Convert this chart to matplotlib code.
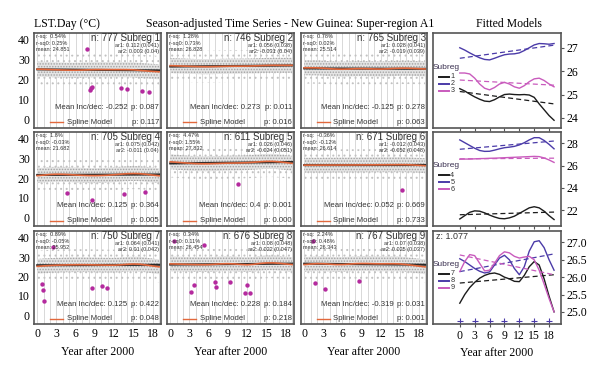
import numpy as np
import matplotlib
matplotlib.use('Agg')
import matplotlib.pyplot as plt
from matplotlib.lines import Line2D

plt.rcParams['hatch.linewidth'] = 0.7

# ---------------- data ----------------
years = list(range(20))
subregs = [1, 2, 3, 4, 5, 6, 7, 8, 9]
n_obs = [777, 746, 765, 705, 611, 671, 750, 676, 767]
r_sq = ['0.54%', '1.28%', '0.78%', '1.8%', '4.47%', '-0.36%', '0.89%', '0.34%', '2.24%']
r_sq0 = ['0.25%', '0.73%', '0.02%', '-0.03%', '1.55%', '-0.12%', '-0.05%', '0.11%', '0.48%']
means = ['24.851', '26.828', '25.514', '21.682', '27.832', '26.614', '25.952', '26.454', '26.343']
ar1 = ['0.112 (0.041)', '0.056 (0.038)', '0.028 (0.041)', '0.075 (0.042)', '0.026 (0.046)',
       '-0.012 (0.043)', '0.064 (0.041)', '0.08 (0.048)', '0.07 (0.038)']
ar2 = ['0.003 (0.04)', '-0.031 (0.04)', '-0.019 (0.039)', '-0.011 (0.04)', '-0.024 (0.051)',
       '-0.052 (0.048)', '0.01 (0.042)', '0.022 (0.047)', '0.025 (0.037)']
mean_incdec = ['-0.252', '0.273', '-0.125', '0.125', '0.4', '0.052', '0.125', '0.228', '-0.319']
p_linear = ['0.087', '0.011', '0.278', '0.364', '0.001', '0.669', '0.422', '0.184', '0.031']
p_spline = ['0.117', '0.016', '0.063', '0.005', '0.000', '0.733', '0.048', '0.218', '0.001']

# spline fits per subregion (yearly values, years 0..19)
spline = [
    [25.25, 25.15, 25.02, 24.90, 24.80, 24.72, 24.70, 24.78, 24.90, 25.00,
     25.02, 25.00, 24.99, 25.00, 24.98, 24.88, 24.60, 24.35, 24.10, 23.90],
    [27.00, 26.90, 26.78, 26.67, 26.57, 26.50, 26.48, 26.55, 26.63, 26.70,
     26.73, 26.74, 26.78, 26.88, 27.00, 27.12, 27.18, 27.17, 27.15, 27.18],
    [25.92, 25.92, 25.88, 25.70, 25.45, 25.27, 25.20, 25.30, 25.45, 25.52,
     25.45, 25.33, 25.27, 25.38, 25.55, 25.67, 25.70, 25.60, 25.45, 25.33],
    [21.20, 21.50, 21.80, 21.93, 21.90, 21.75, 21.55, 21.38, 21.25, 21.22,
     21.30, 21.45, 21.70, 21.95, 22.20, 22.30, 22.20, 21.90, 21.50, 21.15],
    [28.30, 28.05, 27.80, 27.55, 27.35, 27.27, 27.28, 27.38, 27.50, 27.60,
     27.65, 27.72, 27.85, 28.05, 28.30, 28.50, 28.50, 28.25, 27.90, 27.50],
    [26.57, 26.58, 26.58, 26.60, 26.62, 26.63, 26.65, 26.66, 26.68, 26.70,
     26.72, 26.74, 26.76, 26.78, 26.80, 26.82, 26.80, 26.68, 26.50, 26.28],
    [25.25, 25.50, 25.70, 25.85, 25.97, 26.05, 26.10, 26.12, 26.08, 26.00,
     25.95, 25.88, 25.87, 26.05, 26.30, 26.45, 26.35, 25.95, 25.45, 25.00],
    [26.53, 26.45, 26.35, 26.25, 26.17, 26.12, 26.15, 26.35, 26.55, 26.63,
     26.50, 26.25, 26.07, 26.30, 26.75, 27.02, 27.05, 26.85, 26.50, 26.20],
    [26.16, 26.45, 26.65, 26.62, 26.40, 26.18, 26.20, 26.40, 26.62, 26.73,
     26.70, 26.60, 26.55, 26.58, 26.60, 26.50, 26.20, 25.80, 25.38, 25.00],
]
# linear fits: value at year 0 and year 19
lin_years = [0, 19]
linear = [
    [25.13, 24.60], [26.55, 27.11], [25.62, 25.40],
    [21.58, 21.82], [27.46, 28.20], [26.60, 26.66],
    [25.83, 26.07], [26.16, 26.67], [26.64, 26.07],
]
# flagged outlier observations (magenta)
out_x = [
    [7.7, 8.3, 8.45, 8.6, 13.1, 14.0, 16.4, 17.4],
    [],
    [],
    [4.6, 8.6, 13.5, 16.8],
    [10.5],
    [15.4],
    [0.7, 0.9, 1.1, 2.5, 8.5, 10.1, 10.9],
    [0.6, 3.2, 3.75, 5.3, 7.0, 7.2, 9.3, 11.6, 11.9, 12.5],
    [1.4, 1.75, 3.3, 8.6],
]
out_y = [
    [35.3, 14.6, 15.5, 16.0, 15.5, 15.2, 14.3, 13.5],
    [],
    [],
    [12.5, 8.6, 11.6, 13.0],
    [17.0],
    [13.8],
    [16.3, 12.8, 7.6, 35.5, 14.1, 14.9, 14.1],
    [38.4, 11.8, 15.4, 36.4, 17.1, 14.6, 17.1, 11.6, 15.8, 11.6],
    [38.4, 16.8, 13.4, 17.6],
]
rug_years = [0, 3, 6, 9, 12, 15, 18]
fit_yticks = [[24, 25, 26, 27], [22, 24, 26, 28], [25.0, 25.5, 26.0, 26.5, 27.0]]
fit_ylims = [(23.57, 27.63), (20.57, 29.01), (24.65, 27.33)]
z_text = 'z: 1.077'

# ---------------- style ----------------
SERIF = 'Liberation Serif'
SANS = 'Liberation Sans'
GRAY_PTS = '#a2a2a2'
ORANGE = '#e2683c'
MAGENTA = '#b42a9e'
FIT_COLORS = ['#1c1c1c', '#4b3ba8', '#c95bbd']
SPINE = '#555555'

W, H = 600, 369
fig = plt.figure(figsize=(6.0, 3.69), dpi=100)

def fr(x0, y0, x1, y1):
    return [x0 / W, 1 - y1 / H, (x1 - x0) / W, (y1 - y0) / H]

col_x = [(34, 161), (167, 294), (301, 427)]
row_y = [(33, 128), (132, 226), (231, 324)]
fit_x = (433, 561)

for i in range(9):
    r, c = divmod(i, 3)
    ax = fig.add_axes(fr(col_x[c][0], row_y[r][0], col_x[c][1], row_y[r][1]))
    ax.set_xlim(-0.5, 19.3)
    ax.set_ylim(-4.5, 43.5)
    for yv in range(20):
        ax.axvline(yv, color='#d8d8d8', lw=0.7, zorder=0)
    sp = np.array(spline[i])
    ax.fill_between(years, sp - 8.0, sp + 8.0, facecolor='none', edgecolor='#c2c2c2',
                    hatch='...', linewidth=0, zorder=1)
    ax.fill_between(years, sp - 3.8, sp + 3.8, facecolor='#e4e4e4', edgecolor=GRAY_PTS,
                    hatch='......', linewidth=0, zorder=1)
    ax.plot(lin_years, linear[i], color='#2a2a2a', lw=1.5, zorder=3)
    ax.plot(years, spline[i], color=ORANGE, lw=1.2, zorder=4)
    ax.scatter(out_x[i], out_y[i], s=10, color=MAGENTA, marker='o', linewidths=0, zorder=5)

    ax.set_xticks([0, 3, 6, 9, 12, 15, 18])
    ax.set_yticks([0, 10, 20, 30, 40])
    ax.tick_params(length=0, labelsize=8.5, pad=3)
    for lab in ax.get_xticklabels() + ax.get_yticklabels():
        lab.set_fontfamily(SERIF)
    if r < 2:
        ax.set_xticklabels([])
    else:
        ax.set_xlabel('Year after 2000', family=SERIF, fontsize=8.5, labelpad=4)
    if c > 0:
        ax.set_yticklabels([])
    for s in ax.spines.values():
        s.set_color(SPINE)
        s.set_linewidth(1.2)

    tk = dict(transform=ax.transAxes, family=SANS, color='#333333', zorder=6)
    ax.text(0.012, 0.958, f'r-sq:  {r_sq[i]}', fontsize=4.0, va='center', **tk)
    ax.text(0.012, 0.892, f'r-sq0: {r_sq0[i]}', fontsize=4.0, va='center', **tk)
    ax.text(0.012, 0.826, f'mean: {means[i]}', fontsize=4.0, va='center', **tk)
    ax.text(0.99, 0.948, f'n: {n_obs[i]} Subreg {subregs[i]}', fontsize=7.0, ha='right', va='center', **tk)
    ax.text(0.985, 0.866, f'ar1: {ar1[i]}', fontsize=4.0, ha='right', va='center', **tk)
    ax.text(0.985, 0.800, f'ar2: {ar2[i]}', fontsize=4.0, ha='right', va='center', **tk)
    ax.text(0.735, 0.214, f'Mean Inc/dec: {mean_incdec[i]}', fontsize=5.6, ha='right', va='center', **tk)
    ax.text(0.985, 0.214, f'p: {p_linear[i]}', fontsize=5.6, ha='right', va='center', **tk)
    ax.add_line(Line2D([0.126, 0.23], [0.058, 0.058], transform=ax.transAxes, color=ORANGE, lw=1.0))
    ax.text(0.257, 0.058, 'Spline Model', fontsize=5.6, ha='left', va='center', **tk)
    ax.text(0.985, 0.058, f'p: {p_spline[i]}', fontsize=5.6, ha='right', va='center', **tk)

# fitted models column
for r in range(3):
    ax = fig.add_axes(fr(fit_x[0], row_y[r][0], fit_x[1], row_y[r][1]))
    ax.set_xlim(-5.4, 20.4)
    ax.set_ylim(*fit_ylims[r])
    for k in range(3):
        idx = 3 * r + k
        ax.plot(years, spline[idx], color=FIT_COLORS[k], lw=1.0)
        ax.plot(lin_years, linear[idx], color=FIT_COLORS[k], lw=0.9, ls=(0, (4, 2.5)))
    ax.yaxis.tick_right()
    ax.set_yticks(fit_yticks[r])
    ax.set_xticks([0, 3, 6, 9, 12, 15, 18])
    ax.tick_params(length=2, color=SPINE, labelsize=8.5, pad=2)
    for lab in ax.get_xticklabels() + ax.get_yticklabels():
        lab.set_fontfamily(SERIF)
    if r < 2:
        ax.set_xticklabels([])
    else:
        ax.set_xlabel('Year after 2000', family=SERIF, fontsize=8.5, labelpad=4)
        ax.scatter(rug_years, [24.75] * len(rug_years), marker='+', s=14, color=FIT_COLORS[1], lw=0.8)
        ax.text(0.025, 0.94, z_text, transform=ax.transAxes, family=SANS, fontsize=6.4,
                color='#333333', va='center')
    for s in ax.spines.values():
        s.set_color(SPINE)
        s.set_linewidth(1.2)
    # legend
    ax.text(0.0, 0.64, 'Subreg', transform=ax.transAxes, family=SANS, fontsize=6.0,
            color='#3a3050', va='center', ha='left')
    for k in range(3):
        yy = 0.54 - k * 0.075
        ax.add_line(Line2D([0.045, 0.125], [yy, yy], transform=ax.transAxes,
                           color=FIT_COLORS[k], lw=1.4))
        ax.text(0.135, yy, str(subregs[3 * r + k]), transform=ax.transAxes, family=SANS,
                fontsize=5.2, color='#333333', va='center', ha='left')

fig.text(34 / W, 1 - 24 / H, 'LST.Day (°C)', family=SERIF, fontsize=8.5, va='center', ha='left')
fig.text(290 / W, 1 - 24 / H, 'Season-adjusted Time Series - New Guinea: Super-region A1',
         family=SERIF, fontsize=8.5, va='center', ha='center')
fig.text(509 / W, 1 - 24 / H, 'Fitted Models', family=SERIF, fontsize=8.5, va='center', ha='center')

fig.savefig('out.png', dpi=100)
